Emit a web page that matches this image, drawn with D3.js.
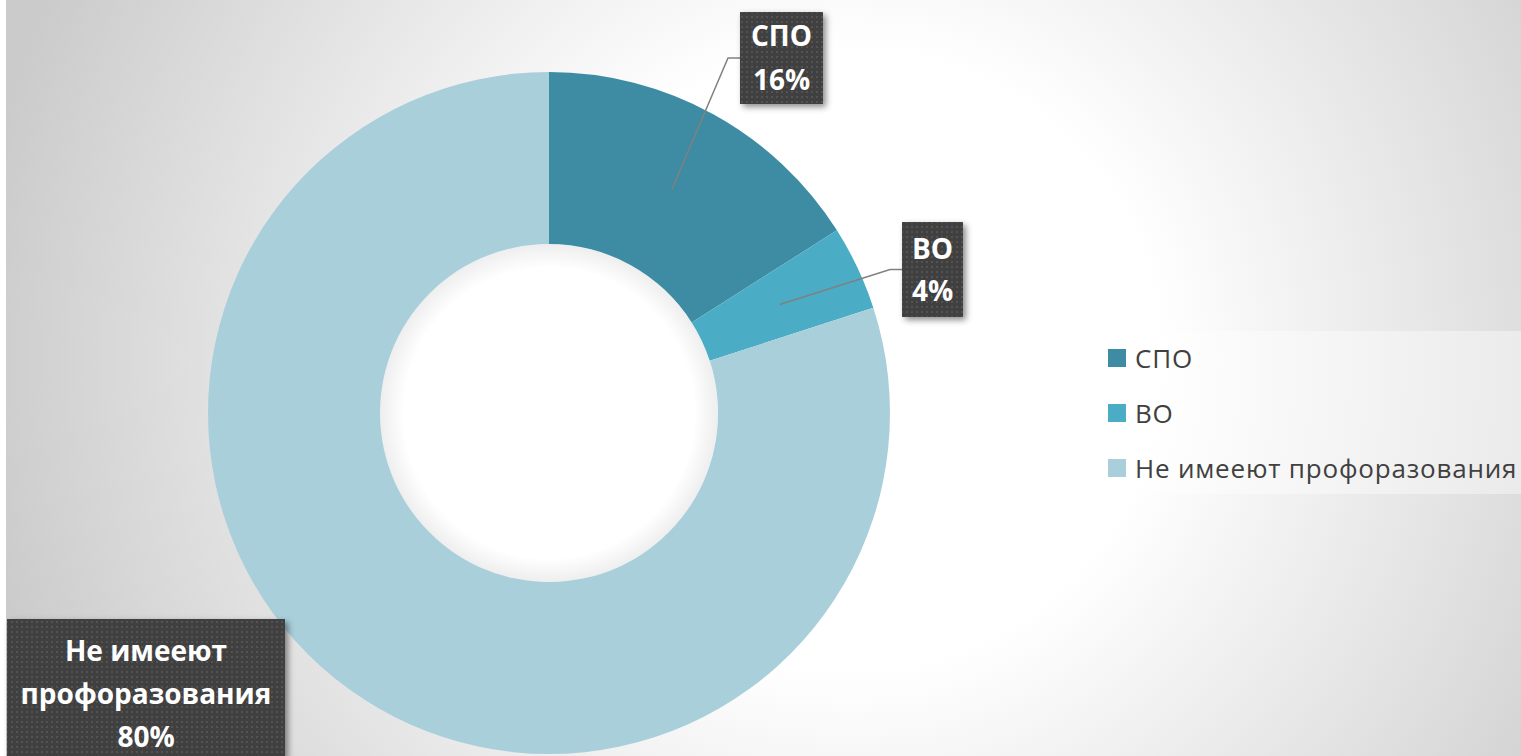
<!DOCTYPE html>
<html>
<head>
<meta charset="utf-8">
<script src="https://cdn.jsdelivr.net/npm/d3@7"></script>
<style>
  body { margin: 0; overflow: hidden; }
  svg { display: block; }
</style>
</head>
<body>
<div class="chart"></div>
<script>
// Data
const categories = ["СПО", "ВО", "Не имееют профоразования"]
const values = [16, 4, 80]
const percentLabels = ["16%", "4%", "80%"]
const labelLines = [["СПО"], ["ВО"], ["Не имееют", "профоразования"]]

const colors = ["#3d8ca3", "#4aacc5", "#a9cfdb"]

const width = 1521, height = 756
const cx = 549, cy = 413
const outerR = 341, innerR = 169

const svg = d3.select(".chart").append("svg")
  .attr("width", width)
  .attr("height", height)

const defs = svg.append("defs")

// background gradient (white in the middle, grey to the corners)
const grad = defs.append("radialGradient")
  .attr("id", "bg")
  .attr("gradientUnits", "userSpaceOnUse")
  .attr("cx", 850).attr("cy", 360).attr("r", 880)
grad.append("stop").attr("offset", "0%").attr("stop-color", "#ffffff")
grad.append("stop").attr("offset", "35%").attr("stop-color", "#ffffff")
grad.append("stop").attr("offset", "100%").attr("stop-color", "#cbcbcb")

// soft shading at the rim of the hole
const holeGrad = defs.append("radialGradient").attr("id", "hole")
holeGrad.append("stop").attr("offset", "86%").attr("stop-color", "#ffffff")
holeGrad.append("stop").attr("offset", "100%").attr("stop-color", "#eeeeee")

// dotted pattern for the label boxes
const pat = defs.append("pattern")
  .attr("id", "dots")
  .attr("patternUnits", "userSpaceOnUse")
  .attr("width", 5).attr("height", 5)
pat.append("rect").attr("width", 5).attr("height", 5).attr("fill", "#404040")
pat.append("rect").attr("x", 1).attr("y", 1).attr("width", 2).attr("height", 2).attr("fill", "#535353")

const shadow = defs.append("filter").attr("id", "shadow")
  .attr("x", "-20%").attr("y", "-20%").attr("width", "150%").attr("height", "150%")
shadow.append("feDropShadow")
  .attr("dx", 3).attr("dy", 3).attr("stdDeviation", 3)
  .attr("flood-color", "#000").attr("flood-opacity", 0.45)

svg.append("rect").attr("width", width).attr("height", height).attr("fill", "#ffffff")
svg.append("rect").attr("x", 6).attr("y", 0).attr("width", width - 6).attr("height", height)
  .attr("fill", "url(#bg)")

// Donut
const pie = d3.pie().sort(null).value(d => d)
const arcs = pie(values)
const arc = d3.arc().innerRadius(innerR).outerRadius(outerR)

const g = svg.append("g").attr("transform", `translate(${cx},${cy})`)
g.append("circle").attr("r", innerR).attr("fill", "url(#hole)")
g.selectAll("path")
  .data(arcs)
  .enter()
  .append("path")
  .attr("d", arc)
  .attr("fill", (d, i) => colors[i])

// Data labels: box position (left, top, width, height) and first line centre
const labelBoxes = [
  {x: 740, y: 12, w: 83, h: 92, first: 36},
  {x: 902, y: 222, w: 61, h: 95, first: 249},
  {x: 7, y: 619, w: 278, h: 140, first: 651}
]
const midArc = d3.arc().innerRadius((innerR + outerR) / 2).outerRadius((innerR + outerR) / 2)

// leader lines (from slice centroid to box edge)
const leaders = [0, 1]
leaders.forEach(i => {
  const c = midArc.centroid(arcs[i])
  const b = labelBoxes[i]
  const ey = b.y + b.h / 2
  svg.append("polyline")
    .attr("points", `${cx + c[0]},${cy + c[1]} ${b.x - 12},${ey} ${b.x},${ey}`)
    .attr("fill", "none")
    .attr("stroke", "#808080")
    .attr("stroke-width", 1.5)
})

labelBoxes.forEach((b, i) => {
  const lg = svg.append("g")
  lg.append("rect")
    .attr("x", b.x).attr("y", b.y)
    .attr("width", b.w).attr("height", b.h)
    .attr("fill", "url(#dots)")
    .attr("filter", "url(#shadow)")
  const lines = labelLines[i].concat([percentLabels[i]])
  const lh = i == 1 ? 42 : 44
  lg.selectAll("text")
    .data(lines)
    .enter()
    .append("text")
    .attr("x", b.x + b.w / 2)
    .attr("y", (d, k) => b.first + k * (i == 2 ? 43 : lh))
    .attr("dy", "0.35em")
    .attr("text-anchor", "middle")
    .attr("fill", "#ffffff")
    .style("font-family", "'Open Sans', sans-serif")
    .style("font-weight", "bold")
    .style("font-size", "28px")
    .text(d => d)
})

// Legend
const legend = svg.append("g")
legend.append("rect")
  .attr("x", 1093).attr("y", 331).attr("width", 428).attr("height", 163)
  .attr("fill", "#ffffff").attr("opacity", 0.4)

const legendItems = legend.selectAll(".legend-item")
  .data(categories)
  .enter()
  .append("g")
  .attr("class", "legend-item")
  .attr("transform", (d, i) => `translate(1108, ${358 + i * 55})`)

legendItems.append("rect")
  .attr("x", 0).attr("y", -9)
  .attr("width", 18).attr("height", 18)
  .attr("fill", (d, i) => colors[i])

legendItems.append("text")
  .attr("x", 27)
  .attr("y", 1)
  .attr("dy", "0.35em")
  .attr("fill", "#404040")
  .style("font-family", "'Open Sans', sans-serif")
  .style("font-size", "26px")
  .style("letter-spacing", "0.8px")
  .text(d => d)
</script>
</body>
</html>
